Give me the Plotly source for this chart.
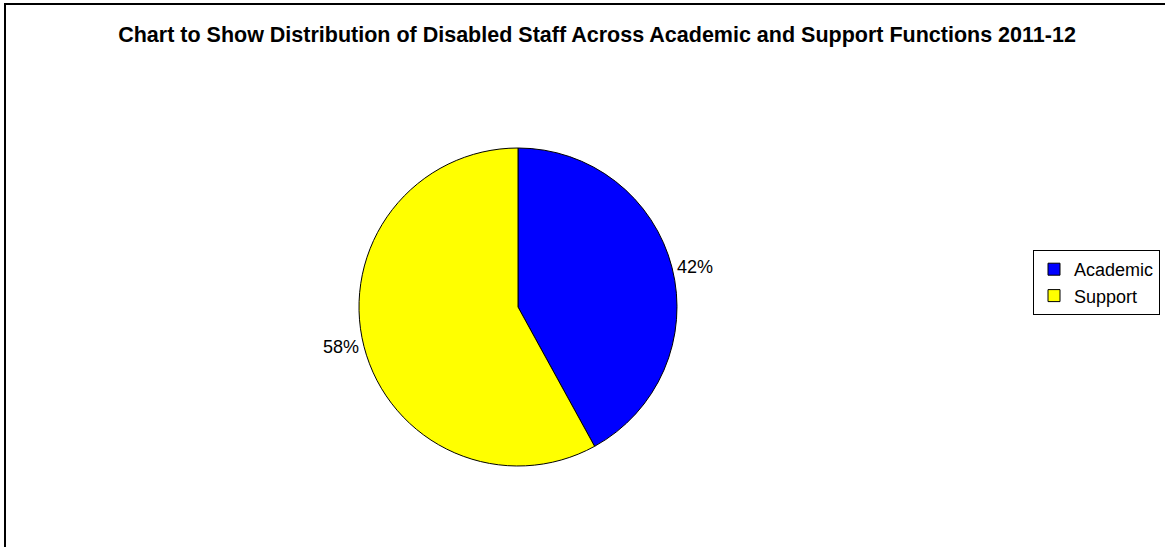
import plotly.graph_objects as go

# Data
CATEGORIES = ["Academic", "Support"]
SHARES = [42, 58]
COLOURS = ["#0000FF", "#FFFF00"]

TITLE = "Chart to Show Distribution of Disabled Staff Across Academic and Support Functions 2011-12"

W, H = 1165, 547
FONT = "Liberation Sans, Arial"


def px_x(x):
    return x / W


def px_y(y):
    return 1 - y / H


fig = go.Figure(go.Pie(
    labels=CATEGORIES,
    values=SHARES,
    sort=False,
    direction="clockwise",
    rotation=0,
    marker=dict(colors=COLOURS, line=dict(color="black", width=1)),
    textposition="outside",
    texttemplate="%{percent:.0%}",
    textfont=dict(family=FONT, size=18, color="black"),
    hoverinfo="label+percent",
    domain=dict(x=[px_x(359), px_x(677)], y=[px_y(466), px_y(148)]),
))

fig.update_layout(
    width=W,
    height=H,
    margin=dict(l=0, r=0, t=0, b=0),
    paper_bgcolor="white",
    plot_bgcolor="white",
    font=dict(family=FONT, color="black"),
    title=dict(
        text=f"<b>{TITLE}</b>",
        x=px_x(597), xanchor="center",
        y=px_y(34), yanchor="middle",
        font=dict(size=21.5, family=FONT, color="black"),
    ),
    legend=dict(
        x=px_x(1033), xanchor="left",
        y=px_y(250), yanchor="top",
        bordercolor="black", borderwidth=1,
        font=dict(size=18, family=FONT, color="black"),
        itemwidth=30,
        itemclick=False,
    ),
    shapes=[dict(
        type="rect", xref="paper", yref="paper",
        x0=px_x(5), x1=1.05, y0=-0.05, y1=px_y(4),
        line=dict(color="black", width=2),
    )],
)

# page body has an 8px default margin; drop it so the chart sits at 0,0
fig.write_html(
    "out.html",
    config={"displayModeBar": False},
    post_script="document.body.style.margin='0';",
)
